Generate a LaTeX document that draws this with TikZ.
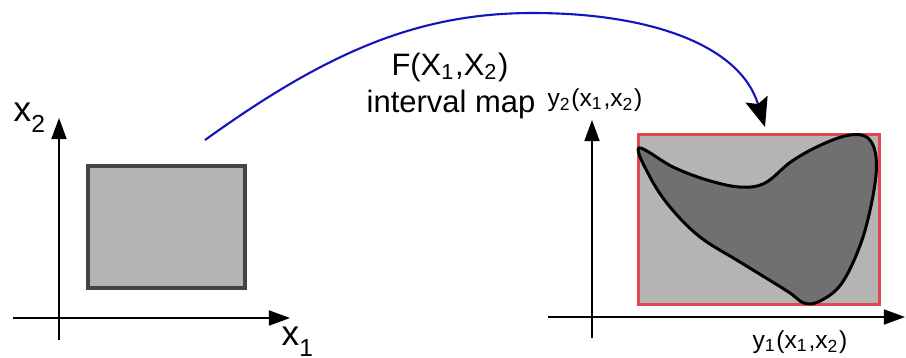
\documentclass[tikz,border=0pt]{standalone}
\usepackage{fontspec}
\setmainfont{Liberation Sans}
\definecolor{MapBlue}{RGB}{20,20,190}
\definecolor{BoxRed}{RGB}{222,72,78}
\definecolor{BoxGray}{RGB}{180,180,180}
\definecolor{EdgeGray}{RGB}{68,68,68}
\definecolor{BlobGray}{RGB}{112,112,112}
\usetikzlibrary{arrows.meta,positioning}
\newcommand{\axsub}[2]{#1\raisebox{-3.2pt}{\fontsize{7}{8}\selectfont #2}}

\begin{document}
\begin{tikzpicture}[x=0.01cm,y=-0.01cm,
    axis/.style={line width=0.45pt, -{Triangle[length=0.21cm,width=0.15cm]}},
    lbl/.style={inner sep=0pt, font=\fontsize{8.8}{10}\selectfont},
    axlbl/.style={inner sep=0pt, font=\fontsize{10}{12}\selectfont},
    smalllbl/.style={inner sep=0pt, font=\fontsize{7}{8}\selectfont}]
  \useasboundingbox (0,0) rectangle (906,357);

  % input space
  \coordinate (xo1) at (13,318);
  \coordinate (xe1) at (290,318);
  \coordinate (xo2) at (59,340);
  \coordinate (xe2) at (59,118);
  \draw[axis] (xo1) -- (xe1);
  \draw[axis] (xo2) -- (xe2);
  \node[axlbl, anchor=base west] (xlab2) at (13,121) {\axsub{x}{2}};
  \node[axlbl, anchor=base west] (xlab1) at (281,345) {\axsub{x}{1}};
  \node[rectangle, draw=EdgeGray, fill=BoxGray, line width=1.1pt,
        minimum width=1.57cm, minimum height=1.22cm, inner sep=0pt] (domain) at (166.5,227) {};

  % output space
  \coordinate (yo1) at (548,317);
  \coordinate (ye1) at (905,317);
  \coordinate (yo2) at (592,338);
  \coordinate (ye2) at (592,120);
  \draw[axis] (yo1) -- (ye1);
  \draw[axis] (yo2) -- (ye2);
  \node[smalllbl] (ylab2) at (595,100) {y\textsubscript{2}(x\textsubscript{1},x\textsubscript{2})};
  \node[smalllbl] (ylab1) at (800,342) {y\textsubscript{1}(x\textsubscript{1},x\textsubscript{2})};
  \node[rectangle, draw=BoxRed, fill=BoxGray, line width=0.85pt,
        minimum width=2.41cm, minimum height=1.7cm, inner sep=0pt] (range) at (759,219.5) {};
  \draw[line width=0.85pt, fill=BlobGray] plot[smooth cycle, tension=0.6] coordinates {
    (639,148) (673,167) (707,180) (740,187) (765,183) (792,161) (823,144)
    (850,135) (868,138) (876,157) (874,190) (862,240) (842,283) (820,301)
    (804,303) (787,291) (740,262) (700,237) (670,207) (650,177)};

  % interval map
  \node[lbl, anchor=base] (fmap) at (450,75) {F(X\textsubscript{1},X\textsubscript{2})};
  \node[lbl, anchor=base] (fname) at (451,112) {interval map};
  \coordinate (mapstart) at (205,140);
  \coordinate (maptip) at (765,127);
  \draw[MapBlue, line width=0.6pt,
        -{Stealth[length=0.29cm,width=0.23cm,inset=0.05cm,color=black]}]
    (mapstart) .. controls (330,50) and (420,13) .. (533,13)
    .. controls (650,13) and (740,45) .. (maptip);
\end{tikzpicture}
\end{document}
